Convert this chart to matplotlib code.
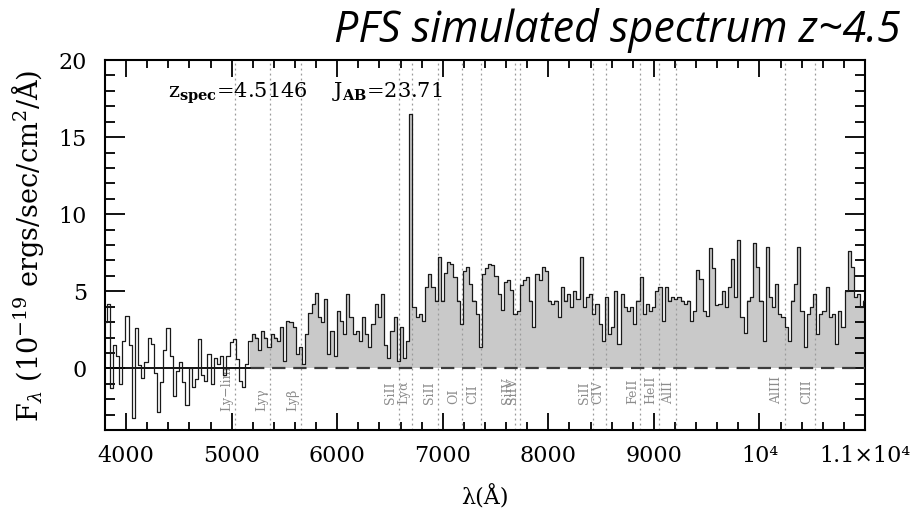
import numpy as np
import matplotlib
matplotlib.use("Agg")
import matplotlib.pyplot as plt
from matplotlib.ticker import MultipleLocator, FixedLocator, FixedFormatter

# ---------------- data ----------------
flux = [
    3.0, 4.2, -1.3, 1.5, 0.8, -1.0, 1.8, 3.4, 1.5, -3.2,
    2.6, 0.2, -0.6, 0.4, 2.0, 1.6, -0.3, -2.8, -0.9, 1.2,
    2.6, 0.8, -1.8, -0.2, 0.4, -0.9, -2.4, 0.0, -1.2, -0.7,
    1.9, -0.4, -0.8, 0.9, -1.0, 0.7, 0.3, 0.8, -0.4, 0.8,
    1.7, 1.9, 0.6, -0.8, -1.2, 0.3, 1.8, 2.2, 2.0, 1.2,
    2.4, 2.0, 1.4, 2.2, 2.0, 1.8, 2.7, 0.5, 3.1, 3.0,
    2.7, 0.9, 1.4, 0.3, 2.2, 3.6, 4.2, 4.9, 3.3, 3.0,
    4.5, 0.9, 2.4, 0.8, 3.7, 3.1, 2.2, 4.8, 3.3, 2.2,
    2.4, 1.8, 3.3, 2.2, 1.4, 2.9, 4.2, 3.3, 4.8, 1.5,
    0.7, 2.4, 3.3, 0.5, 2.7, 0.7, 1.8, 16.5, 4.0, 3.3,
    3.5, 3.1, 5.3, 6.1, 5.3, 4.4, 7.2, 4.4, 6.2, 6.9,
    6.8, 5.9, 4.4, 2.9, 6.3, 6.6, 5.5, 4.4, 3.5, 1.4,
    6.1, 6.5, 6.8, 6.7, 6.0, 4.8, 3.8, 5.6, 5.7, 5.1,
    3.5, 3.7, 5.4, 5.7, 5.9, 4.4, 2.7, 6.1, 5.7, 6.6,
    6.3, 4.4, 4.2, 4.4, 3.3, 5.3, 4.4, 4.8, 4.0, 5.0,
    4.5, 7.2, 4.0, 4.6, 4.8, 3.5, 4.2, 2.9, 1.8, 4.6,
    2.2, 2.7, 5.0, 1.6, 4.8, 4.0, 3.7, 4.0, 2.9, 4.4,
    5.9, 3.5, 4.2, 3.7, 4.0, 5.0, 5.3, 3.1, 5.3, 4.4,
    4.6, 4.5, 4.6, 4.4, 4.2, 4.4, 3.1, 3.7, 6.4, 5.8,
    3.7, 3.4, 7.8, 6.5, 4.1, 4.2, 5.0, 4.0, 5.3, 7.1,
    4.6, 8.3, 3.3, 2.3, 4.4, 4.6, 8.1, 6.6, 4.4, 1.8,
    7.9, 4.6, 4.0, 5.5, 3.5, 3.3, 2.7, 1.8, 4.4, 5.5,
    7.9, 3.7, 1.4, 3.5, 4.0, 4.8, 2.2, 3.5, 3.7, 5.3,
    3.3, 3.5, 1.6, 3.7, 2.7, 5.0, 7.6, 6.6, 4.6, 4.8,
    4.0, 4.4,
]
wave_min, wave_max = 3800, 11000
wave = np.linspace(wave_min, wave_max, len(flux))
flux = np.array(flux)

z_spec = 4.5146
line_names = ["Ly\u2212lim", "Ly\u03b3", "Ly\u03b2", "SiII", "Ly\u03b1", "SiII", "OI", "CII",
              "SiIV", "SiIV", "SiII", "CIV", "FeII", "HeII", "AlII", "AlIII", "CIII"]
line_rest = [912.0, 972.54, 1025.72, 1193.3, 1215.67, 1260.42, 1302.17, 1334.53,
             1393.76, 1402.77, 1526.71, 1549.06, 1608.45, 1640.42, 1670.79, 1857.0, 1908.73]

x_ticks = [4000, 5000, 6000, 7000, 8000, 9000, 10000, 11000]
x_tick_labels = ["4000", "5000", "6000", "7000", "8000", "9000",
                 "10\u2074", "1.1\u00d710\u2074"]
y_ticks = [0, 5, 10, 15, 20]
fill_start = 5180

# ---------------- style ----------------
plt.rcParams['font.family'] = ['DejaVu Serif']
plt.rcParams['mathtext.fontset'] = 'dejavuserif'

W, H = 917, 511
fig = plt.figure(figsize=(W / 100, H / 100), dpi=100)
L, R, T, B = 105, 865, 60, 430
ax = fig.add_axes([L / W, 1 - B / H, (R - L) / W, (B - T) / H])

# gray fill under positive flux
ax.fill_between(wave, 0, np.clip(flux, 0, None), where=wave >= fill_start - 20,
                step='mid', color='#c9c9c9', lw=0, zorder=1)

# line markers
for name, rest in zip(line_names, line_rest):
    lam = rest * (1 + z_spec)
    ax.axvline(lam, color='#9a9a9a', lw=0.9, ls=(0, (1.5, 2.5)), zorder=2)
    yb = -2.75 if name.startswith("Ly") and name != "Ly\u03b1" else -2.3
    ax.text(lam - 12, yb, name, rotation=90, ha='right', va='bottom',
            fontsize=9, color='#8c8c8c', zorder=2)

# zero line
ax.plot([wave_min, fill_start], [0, 0], color='black', lw=1.3, zorder=3)
ax.plot([fill_start, wave_max], [0, 0], color='#3c3c3c', lw=1.6,
        ls=(0, (6, 3.5)), zorder=3)

# spectrum
ax.step(wave, flux, where='mid', color='#1a1a1a', lw=0.9, zorder=4)

ax.set_xlim(wave_min, wave_max)
ax.set_ylim(-4, 20)

ax.xaxis.set_major_locator(FixedLocator(x_ticks))
ax.xaxis.set_major_formatter(FixedFormatter(x_tick_labels))
ax.xaxis.set_minor_locator(MultipleLocator(200))
ax.yaxis.set_major_locator(FixedLocator(y_ticks))
ax.yaxis.set_minor_locator(MultipleLocator(1))

ax.tick_params(which='both', direction='in', top=True, right=True,
               labelsize=16, colors='black', width=1.3)
ax.tick_params(axis='x', which='major', length=12, pad=11)
ax.tick_params(axis='x', which='minor', length=6)
ax.tick_params(axis='y', which='major', length=14.5, pad=13)
ax.tick_params(axis='y', which='minor', length=7.5)
for s in ax.spines.values():
    s.set_linewidth(1.5)

# annotation
ax.text((168 - L) / (R - L), (B - 98) / (B - T),
        r"z$_{\mathbf{spec}}$=4.5146    J$_{\mathbf{AB}}$=23.71",
        transform=ax.transAxes, fontsize=15, ha='left', va='baseline')

# axis labels
fig.text(28 / W, 1 - 246 / H, r"F$_\lambda$ (10$^{-19}$ ergs/sec/cm$^2$/Å)",
         rotation=90, ha='center', va='center', fontsize=19.5)
fig.text(485 / W, 1 - 497 / H, "λ(Å)", ha='center', va='center', fontsize=16)

# title
fig.text(900 / W, 1 - 42 / H, "PFS simulated spectrum z~4.5", ha='right',
         va='baseline', fontsize=31, style='italic', family='Open Sans')

fig.savefig("out.png", dpi=100)
